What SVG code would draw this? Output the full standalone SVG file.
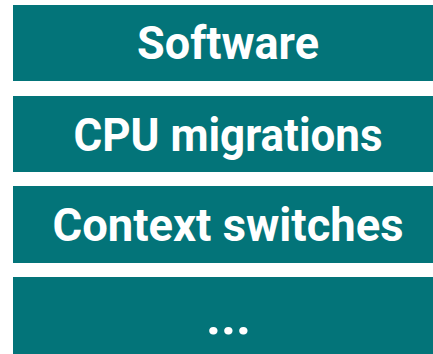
<svg xmlns="http://www.w3.org/2000/svg" width="433" height="354" viewBox="0 0 433 354">
  <style>
    .box { fill: #037479; }
    .label { fill: #ffffff; font-family: Roboto, "Liberation Sans", sans-serif; font-weight: 700; font-size: 46px; text-anchor: middle; }
    .dots { font-size: 52px; }
  </style>
  <rect width="433" height="354" fill="#ffffff"/>
  <g id="software">
    <rect class="box" x="13" y="5" width="420" height="76"/>
    <text class="label" x="228" y="59" textLength="182" lengthAdjust="spacingAndGlyphs">Software</text>
  </g>
  <g id="cpu-migrations">
    <rect class="box" x="13" y="96" width="420" height="76"/>
    <text class="label" x="228" y="151" textLength="309" lengthAdjust="spacingAndGlyphs">CPU migrations</text>
  </g>
  <g id="context-switches">
    <rect class="box" x="13" y="186" width="420" height="77"/>
    <text class="label" x="228" y="241" textLength="351" lengthAdjust="spacingAndGlyphs">Context switches</text>
  </g>
  <g id="more">
    <rect class="box" x="13" y="277" width="420" height="77"/>
    <text class="label dots" x="228.5" y="334">...</text>
  </g>
  <g id="connectors"/>
</svg>
